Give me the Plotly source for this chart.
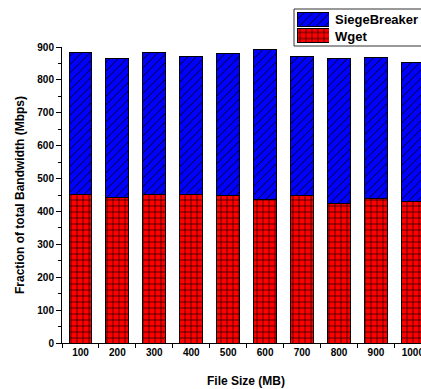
import plotly.graph_objects as go

file_sizes = ["100", "200", "300", "400", "500", "600", "700", "800", "900", "1000"]
wget = [451, 443, 453, 451, 449, 435, 449, 425, 439, 430]
siegebreaker = [433, 422, 430, 420, 432, 458, 423, 440, 429, 424]
series_names = ["Wget", "SiegeBreaker"]

FONT = "Liberation Sans, Arial, sans-serif"
W, H = 421, 389

styles = {
    "Wget": dict(color="#ff0000", shape="+", solidity=0.2),
    "SiegeBreaker": dict(color="#0000ff", shape="/", solidity=0.15),
}


def marker_for(name):
    s = styles[name]
    return dict(color=s["color"], line=dict(color="black", width=1),
                pattern=dict(shape=s["shape"], fgcolor="black", bgcolor=s["color"],
                             size=6, solidity=s["solidity"], fillmode="replace"))


def bold(size):
    return dict(size=size, family=FONT, color="black", weight="bold")


fig = go.Figure()
for name, values in zip(series_names, [wget, siegebreaker]):
    fig.add_trace(go.Bar(x=file_sizes, y=values, name=name, width=0.62,
                         marker=marker_for(name), showlegend=False))

# legend swatches drawn as small bars on their own axes
for name in series_names:
    fig.add_trace(go.Bar(x=[1], y=[name], orientation="h", width=0.9,
                         marker=marker_for(name), showlegend=False,
                         xaxis="x2", yaxis="y2", hoverinfo="skip"))

fig.update_layout(
    width=W, height=H,
    barmode="stack",
    plot_bgcolor="white", paper_bgcolor="white",
    margin=dict(l=0, r=0, t=0, b=0, autoexpand=False),
    font=bold(10),
    showlegend=False,
    xaxis=dict(
        domain=[62 / W, 1], anchor="y",
        type="category", range=[-0.5, 9.22],
        showline=True, linecolor="black", linewidth=1,
        ticks="outside", tickson="boundaries", ticklen=4, tickcolor="black",
        showgrid=False, zeroline=False,
        tickfont=bold(10),
    ),
    yaxis=dict(
        domain=[(H - 343) / H, (H - 47) / H], anchor="x",
        range=[0, 900], dtick=100, tick0=0,
        showline=True, linecolor="black", linewidth=1,
        ticks="outside", ticklen=5, tickcolor="black",
        minor=dict(ticks="outside", dtick=50, ticklen=3, tickcolor="black"),
        showgrid=False, zeroline=False,
        tickfont=bold(10),
        title=dict(text="Fraction of total Bandwidth (Mbps)", font=bold(12), standoff=10),
    ),
    xaxis2=dict(domain=[297 / W, 329 / W], range=[0, 1], visible=False,
                anchor="y2", fixedrange=True),
    yaxis2=dict(domain=[(H - 43.5) / H, (H - 11.5) / H], range=[-0.5, 1.5],
                visible=False, anchor="x2", type="category",
                categoryorder="array", categoryarray=series_names, fixedrange=True),
    shapes=[dict(type="rect", xref="paper", yref="paper", layer="below",
                 x0=294 / W, x1=1.02, y0=(H - 46) / H, y1=(H - 9) / H,
                 line=dict(color="#333333", width=1), fillcolor="white")],
    annotations=[
        dict(text="File Size (MB)", xref="paper", yref="paper", x=246 / W, y=(H - 381) / H,
             xanchor="center", yanchor="middle", showarrow=False, font=bold(12)),
        dict(text="SiegeBreaker", xref="paper", yref="paper", x=333 / W, y=(H - 19) / H,
             xanchor="left", yanchor="middle", showarrow=False, font=bold(13)),
        dict(text="Wget", xref="paper", yref="paper", x=333 / W, y=(H - 36) / H,
             xanchor="left", yanchor="middle", showarrow=False, font=bold(13)),
    ],
)

fig.write_html("out.html")
